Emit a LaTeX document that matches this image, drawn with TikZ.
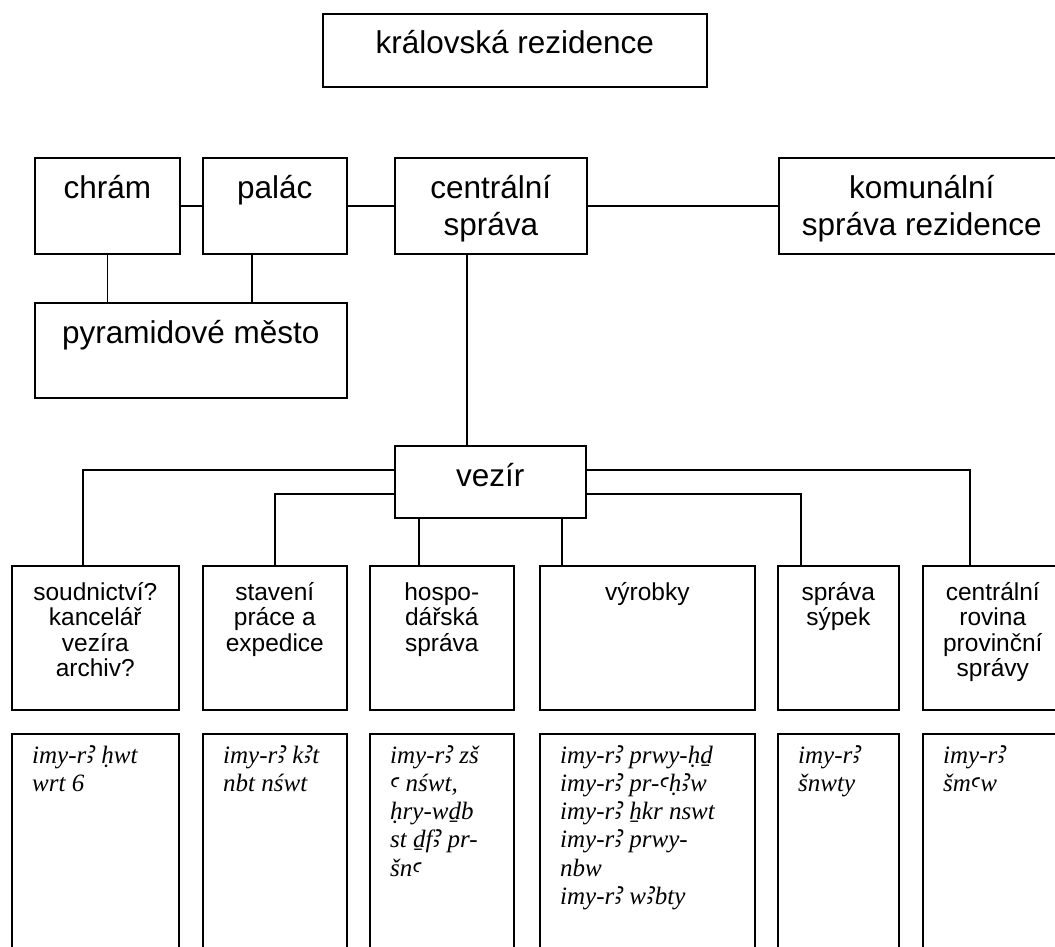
\documentclass[tikz,border=0pt]{standalone}
\usepackage{fontspec}
\setmainfont{Liberation Sans}
\newfontfamily\translit{Liberation Serif}
\newfontfamily\egyfb{Noto Sans}
\newcommand\Alef{{\egyfb\itshape\fontsize{30}{28.3}\selectfont ꜣ}}
\newcommand\Ayin{{\egyfb\itshape ꜥ}}
\newcommand\ctext[1]{\begin{tabular}[t]{@{}c@{}}#1\end{tabular}}
\newcommand\ltext[1]{\begin{tabular}[t]{@{}l@{}}#1\end{tabular}}
\begin{document}
\begin{tikzpicture}[x=1pt,y=-1pt,
  box/.style={draw, line width=1.6pt, inner sep=0pt, anchor=north west},
  conn/.style={line width=1.4pt},
  big/.style={font=\fontsize{31.5}{37}\selectfont, anchor=base, inner sep=0pt},
  mid/.style={font=\fontsize{24.5}{25.4}\selectfont, anchor=base, inner sep=0pt},
  tl/.style={font=\translit\itshape\fontsize{25}{28.3}\selectfont, anchor=base west, inner sep=0pt}]
\useasboundingbox (0,0) rectangle (1055,947);
\clip (0,0) rectangle (1055,947);
% top level
\node[box, minimum width=384pt, minimum height=73pt] (top) at (322,13) {};
\node[big] (ttop) at ([yshift=-41pt]top.north) {královská rezidence};
\node[box, minimum width=145pt, minimum height=96pt] (chram) at (34,157) {};
\node[big] (tchram) at ([yshift=-41pt]chram.north) {chrám};
\node[box, minimum width=144pt, minimum height=96pt] (palac) at (202,157) {};
\node[big] (tpalac) at ([yshift=-41pt]palac.north) {palác};
\node[box, minimum width=192pt, minimum height=96pt] (central) at (394,157) {};
\node[big] (tcentral) at ([yshift=-41pt]central.north) {\ctext{centrální\\správa}};
\node[box, minimum width=286pt, minimum height=96pt] (komunal) at (778,157) {};
\node[big] (tkomunal) at ([yshift=-41pt]komunal.north) {\ctext{komunální\\správa rezidence}};
\node[box, minimum width=312pt, minimum height=95pt] (pyr) at (34,302) {};
\node[big] (tpyr) at ([yshift=-41pt]pyr.north) {pyramidové město};
\node[box, minimum width=191pt, minimum height=72pt] (vezir) at (394,445) {};
\node[big] (tvezir) at ([yshift=-41pt]vezir.north) {vezír};
% departments
\node[box, minimum width=167pt, minimum height=144pt] (b1) at (11,565) {};
\node[box, minimum width=144pt, minimum height=144pt] (b2) at (202,565) {};
\node[box, minimum width=144pt, minimum height=144pt] (b3) at (369,565) {};
\node[box, minimum width=215pt, minimum height=144pt] (b4) at (539,565) {};
\node[box, minimum width=121pt, minimum height=144pt] (b5) at (777,565) {};
\node[box, minimum width=140pt, minimum height=144pt] (b6) at (922,565) {};
\node[mid] (tb1) at ([yshift=-35pt]b1.north) {\ctext{soudnictví?\\kancelář\\vezíra\\archiv?}};
\node[mid] (tb2) at ([yshift=-35pt]b2.north) {\ctext{stavení\\práce a\\expedice}};
\node[mid] (tb3) at ([yshift=-35pt]b3.north) {\ctext{hospo-\\dářská\\správa}};
\node[mid] (tb4) at ([yshift=-35pt]b4.north) {výrobky};
\node[mid] (tb5) at ([yshift=-35pt]b5.north) {\ctext{správa\\sýpek}};
\node[mid] (tb6) at ([yshift=-35pt]b6.north) {\ctext{centrální\\rovina\\provinční\\správy}};
% titles
\node[box, minimum width=167pt, minimum height=240pt] (c1) at (11,733) {};
\node[box, minimum width=144pt, minimum height=240pt] (c2) at (202,733) {};
\node[box, minimum width=144pt, minimum height=240pt] (c3) at (369,733) {};
\node[box, minimum width=215pt, minimum height=240pt] (c4) at (539,733) {};
\node[box, minimum width=121pt, minimum height=240pt] (c5) at (777,733) {};
\node[box, minimum width=140pt, minimum height=240pt] (c6) at (922,733) {};
\node[tl] (tc1) at ([xshift=21pt,yshift=-30pt]c1.north west) {\ltext{imy-r\Alef{} ḥwt\\wrt 6}};
\node[tl] (tc2) at ([xshift=21pt,yshift=-30pt]c2.north west) {\ltext{imy-r\Alef{} k\Alef t\\nbt nśwt}};
\node[tl] (tc3) at ([xshift=21pt,yshift=-30pt]c3.north west) {\ltext{imy-r\Alef{} zš\\\Ayin{} nśwt,\\ḥry-wḏb\\st ḏf\Alef{} pr-\\šn\Ayin}};
\node[tl] (tc4) at ([xshift=21pt,yshift=-30pt]c4.north west) {\ltext{imy-r\Alef{} prwy-ḥḏ\\imy-r\Alef{} pr-\Ayin ḥ\Alef w\\imy-r\Alef{} ẖkr nswt\\imy-r\Alef{} prwy-\\nbw\\imy-r\Alef{} w\Alef bty}};
\node[tl] (tc5) at ([xshift=21pt,yshift=-30pt]c5.north west) {\ltext{imy-r\Alef\\šnwty}};
\node[tl] (tc6) at ([xshift=21pt,yshift=-30pt]c6.north west) {\ltext{imy-r\Alef\\šm\Ayin w}};
% connectors
\draw[conn] (chram.east) -- (palac.west);
\draw[conn] (palac.east) -- (central.west);
\draw[conn] (central.east) -- (komunal.west);
\draw[conn] (chram.south) -- (chram.south |- pyr.north);
\coordinate (pl) at ([xshift=-23pt]palac.south);
\draw[conn] (pl) -- (pl |- pyr.north);
\coordinate (cv) at ([xshift=-24pt]central.south);
\draw[conn] (cv) -- (cv |- vezir.north);
\coordinate (b1t) at ([xshift=72pt]b1.north west);
\coordinate (b2t) at ([xshift=73pt]b2.north west);
\coordinate (b3t) at ([xshift=50pt]b3.north west);
\coordinate (b4t) at ([xshift=23pt]b4.north west);
\coordinate (b5t) at ([xshift=24pt]b5.north west);
\coordinate (b6t) at ([xshift=48pt]b6.north west);
\draw[conn] ([yshift=12pt]vezir.west) -| (b1t);
\draw[conn] ([yshift=-12pt]vezir.west) -| (b2t);
\draw[conn] (vezir.south -| b3t) -- (b3t);
\draw[conn] (vezir.south -| b4t) -- (b4t);
\draw[conn] ([yshift=-12pt]vezir.east) -| (b5t);
\draw[conn] ([yshift=12pt]vezir.east) -| (b6t);
\end{tikzpicture}
\end{document}
